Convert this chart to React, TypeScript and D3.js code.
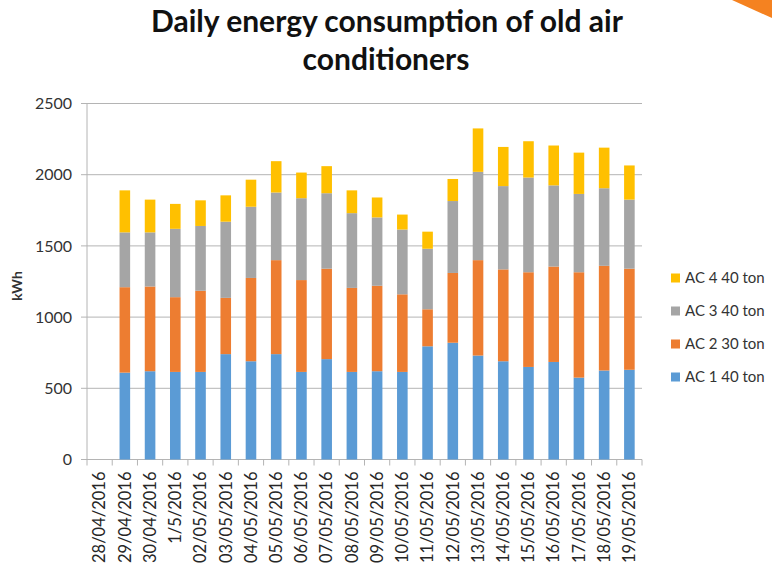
import React from "react";
import * as d3 from "d3";

const categories = [
  "28/04/2016", "29/04/2016", "30/04/2016", "1/5/2016", "02/05/2016", "03/05/2016",
  "04/05/2016", "05/05/2016", "06/05/2016", "07/05/2016", "08/05/2016", "09/05/2016",
  "10/05/2016", "11/05/2016", "12/05/2016", "13/05/2016", "14/05/2016", "15/05/2016",
  "16/05/2016", "17/05/2016", "18/05/2016", "19/05/2016",
];
const ac1 = [0, 610, 620, 615, 615, 740, 690, 740, 615, 705, 615, 620, 615, 795, 820, 730, 690, 650, 685, 575, 625, 630];
const ac2 = [0, 600, 595, 525, 570, 395, 585, 660, 645, 635, 590, 600, 545, 260, 490, 670, 645, 665, 670, 740, 735, 710];
const ac3 = [0, 385, 380, 480, 455, 535, 500, 475, 575, 530, 525, 480, 455, 425, 505, 620, 585, 665, 570, 550, 545, 485];
const ac4 = [0, 295, 230, 175, 180, 185, 190, 220, 180, 190, 160, 140, 105, 120, 155, 305, 275, 255, 280, 290, 285, 240];
const seriesNames = ["AC 1 40 ton", "AC 2 30 ton", "AC 3 40 ton", "AC 4 40 ton"];
const seriesColors = ["#5B9BD5", "#ED7D31", "#A5A5A5", "#FFC000"];
const yTicks = [0, 500, 1000, 1500, 2000, 2500];

const W = 772, H = 565;
const left = 87, right = 642, top = 103.5, bottom = 459.5;

export default function App() {
  const rows = categories.map((c, i) => ({ cat: c, s0: ac1[i], s1: ac2[i], s2: ac3[i], s3: ac4[i] }));
  const stack = d3.stack<any>().keys(["s0", "s1", "s2", "s3"])(rows);
  const x = d3.scaleBand().domain(categories).range([left, right]).paddingInner(0.58).paddingOuter(0.29);
  const xb = d3.scaleBand().domain(categories).range([left, right]);
  const y = d3.scaleLinear().domain([0, 2500]).range([bottom, top]);
  const font = "Lato, 'Open Sans', sans-serif";
  return (
    <svg width={W} height={H} style={{ position: "absolute", left: 0, top: 0, background: "#fff" }}>
      <rect x={0} y={0} width={W} height={H} fill="#fff" />
      <polygon points={`732,0 ${W},0 ${W},18`} fill="#F58220" />
      <text x={387} y={32} textAnchor="middle" fontFamily={font} fontWeight="bold" fontSize={30} fill="#111">
        Daily energy consumption of old air
      </text>
      <text x={386} y={70} textAnchor="middle" fontFamily={font} fontWeight="bold" fontSize={30} fill="#111">
        conditioners
      </text>
      {yTicks.map((t) => (
        <g key={t}>
          {t > 0 && <line x1={left} x2={right} y1={y(t)} y2={y(t)} stroke="#B4B4B4" strokeWidth={1} />}
          <line x1={left - 6} x2={left} y1={y(t)} y2={y(t)} stroke="#B4B4B4" />
          <text x={72} y={y(t)} dy="0.35em" textAnchor="end" fontFamily={font} fontSize={16} fill="#333">
            {t}
          </text>
        </g>
      ))}
      <line x1={left} x2={left} y1={top} y2={bottom} stroke="#B4B4B4" />
      <line x1={left} x2={right} y1={bottom} y2={bottom} stroke="#B4B4B4" />
      {categories.map((c) => (
        <line key={c} x1={xb(c)!} x2={xb(c)!} y1={bottom} y2={bottom + 6} stroke="#B4B4B4" />
      ))}
      <line x1={right} x2={right} y1={bottom} y2={bottom + 6} stroke="#B4B4B4" />
      {stack.map((layer, k) => (
        <g key={k} fill={seriesColors[k]}>
          {layer.map((d: any, i: number) =>
            d[1] - d[0] > 0 ? (
              <rect key={i} x={x(categories[i])!} width={x.bandwidth()} y={y(d[1])} height={y(d[0]) - y(d[1])} />
            ) : null
          )}
        </g>
      ))}
      {categories.map((c) => (
        <text
          key={c}
          transform={`translate(${xb(c)! + xb.bandwidth() / 2},${bottom + 12}) rotate(-90)`}
          dy="0.35em"
          textAnchor="end"
          fontFamily={font}
          fontSize={16.5}
          fill="#262626"
        >
          {c}
        </text>
      ))}
      <text transform={`translate(17,286) rotate(-90)`} dy="0.35em" textAnchor="middle" fontFamily={font} fontWeight="bold" fontSize={14} fill="#333">
        kWh
      </text>
      {[3, 2, 1, 0].map((k, j) => (
        <g key={k} transform={`translate(671,${278 + j * 33})`}>
          <rect x={0} y={-4.5} width={9} height={9} fill={seriesColors[k]} />
          <text x={14} y={0} dy="0.35em" fontFamily={font} fontSize={15} fill="#333">
            {seriesNames[k]}
          </text>
        </g>
      ))}
    </svg>
  );
}
